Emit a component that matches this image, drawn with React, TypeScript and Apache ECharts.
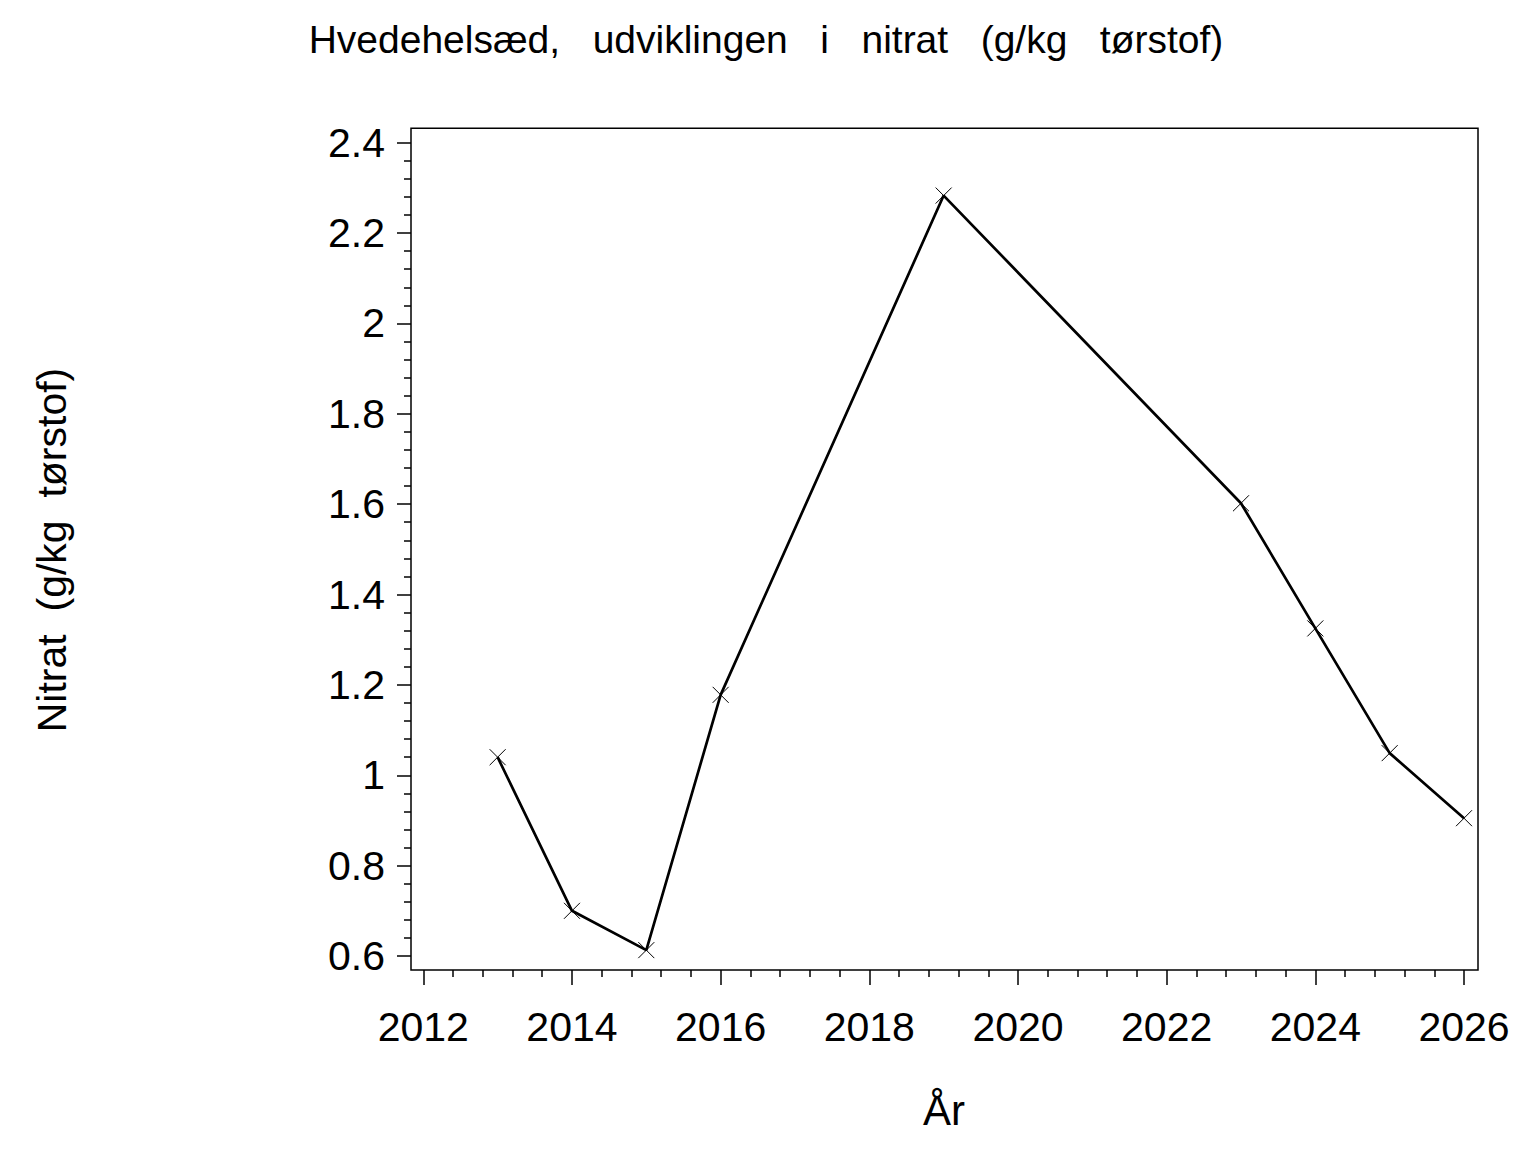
import React, { useEffect, useRef } from "react";
import * as echarts from "echarts";

const years = [2013, 2014, 2015, 2016, 2019, 2023, 2024, 2025, 2026];
const nitrat = [1.04, 0.7, 0.613, 1.178, 2.283, 1.602, 1.325, 1.049, 0.905];

const xMin = 2012;
const xMax = 2026;
const xStep = 2;
const yMin = 0.6;
const yMax = 2.4;
const yStep = 0.2;

const titleText = "Hvedehelsæd,   udviklingen   i   nitrat   (g/kg   tørstof)";
const yNameText = "Nitrat  (g/kg  tørstof)";
const xNameText = "År";

const FONT = "'Liberation Sans', Arial, Helvetica, sans-serif";

export default function App() {
  const ref = useRef<HTMLDivElement>(null);

  useEffect(() => {
    if (!ref.current) return;
    const chart = echarts.init(ref.current, undefined, { renderer: "svg" });
    const data = years.map((y, i) => [y, nitrat[i]]);
    chart.setOption({
      animation: false,
      backgroundColor: "#ffffff",
      grid: { left: 423.3, right: 72, top: 142.7, bottom: 196, containLabel: false },
      xAxis: {
        type: "value",
        min: xMin,
        max: xMax,
        interval: xStep,
        offset: 14,
        axisLine: { show: false },
        axisTick: { show: true, length: 15, inside: false, lineStyle: { color: "#000", width: 1.5 } },
        minorTick: { show: true, splitNumber: 5, length: 7, lineStyle: { color: "#000", width: 1.5 } },
        splitLine: { show: false },
        axisLabel: {
          color: "#000",
          fontFamily: FONT,
          fontSize: 41,
          margin: 36,
          formatter: (v: number) => String(Math.round(v)),
        },
      },
      yAxis: {
        type: "value",
        min: yMin,
        max: yMax,
        interval: yStep,
        offset: 12.3,
        axisLine: { show: false },
        axisTick: { show: true, length: 14, inside: false, lineStyle: { color: "#000", width: 1.5 } },
        minorTick: { show: true, splitNumber: 5, length: 7, lineStyle: { color: "#000", width: 1.5 } },
        splitLine: { show: false },
        axisLabel: {
          color: "#000",
          fontFamily: FONT,
          fontSize: 41,
          margin: 26,
          formatter: (v: number) => String(Math.round(v * 10) / 10),
        },
      },
      graphic: [
        {
          type: "rect",
          shape: { x: 411, y: 128.3, width: 1067, height: 841.7 },
          style: { fill: "none", stroke: "#000", lineWidth: 1.5 },
          z: 10,
        },
        {
          type: "text",
          x: 766,
          y: 39,
          style: {
            text: titleText,
            fontFamily: FONT,
            fontSize: 39,
            fill: "#000",
            align: "center",
            verticalAlign: "middle",
          },
        },
        {
          type: "text",
          x: 52,
          y: 550,
          rotation: Math.PI / 2,
          style: {
            text: yNameText,
            fontFamily: FONT,
            fontSize: 41,
            fill: "#000",
            align: "center",
            verticalAlign: "middle",
          },
        },
        {
          type: "text",
          x: 944,
          y: 1110,
          style: {
            text: xNameText,
            fontFamily: FONT,
            fontSize: 42,
            fill: "#000",
            align: "center",
            verticalAlign: "middle",
          },
        },
      ],
      series: [
        {
          type: "line",
          data,
          symbol: "path://M0,0L10,10M10,0L0,10",
          symbolSize: 16,
          showAllSymbol: true,
          lineStyle: { color: "#000", width: 2.7 },
          itemStyle: { color: "rgba(0,0,0,0)", borderColor: "#000", borderWidth: 1 },
          emphasis: { disabled: true },
          z: 5,
        },
      ],
    });
    return () => chart.dispose();
  }, []);

  return (
    <div
      ref={ref}
      style={{ position: "absolute", left: 0, top: 0, width: 1536, height: 1152, background: "#fff" }}
    />
  );
}
